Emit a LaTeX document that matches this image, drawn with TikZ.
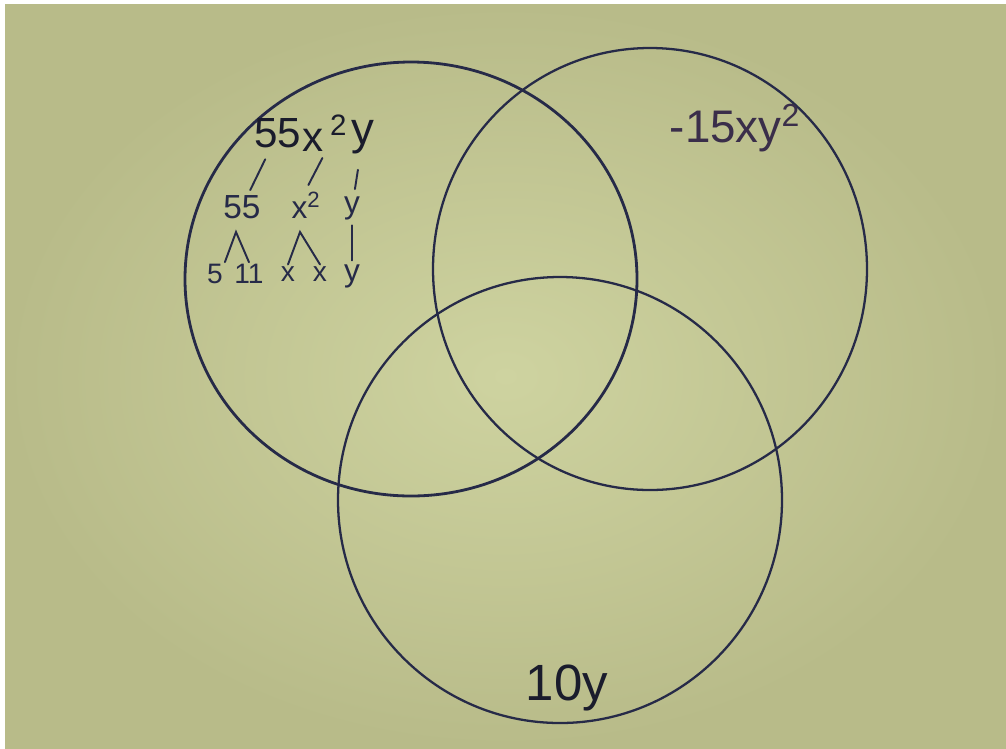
\documentclass[tikz,border=0pt]{standalone}
\usepackage{fontspec}
\setsansfont{Liberation Sans}
\usepackage{tikz}
\usepackage{xcolor}

\definecolor{paper}{RGB}{206,211,160}
\definecolor{paperedge}{RGB}{184,187,137}
\definecolor{ink}{RGB}{38,42,72}
\definecolor{inkdark}{RGB}{26,28,44}
\definecolor{inkpurple}{RGB}{58,46,74}

\begin{document}
\begin{tikzpicture}[
    x=0.02cm, y=-0.02cm,
    ring/.style={
      draw=ink,
      line width=1.3pt
    },
    term/.style={
      font=\sffamily,
      text=inkdark,
      inner sep=1pt
    },
    branch/.style={
      draw=ink,
      line width=1.1pt,
      line cap=round
    }
  ]

    % Papier
    \useasboundingbox (0,0) rectangle (1006,748);
    \fill[white] (0,0) rectangle (1006,748);
    \shade[inner color=paper, outer color=paperedge]
      (5,4) rectangle (1006,748);

    % Kreise
    \draw[ring, line width=1.6pt] (411,279) ellipse [x radius=226, y radius=217];
    \draw[ring] (650,269) ellipse [x radius=217, y radius=221];
    \draw[ring] (560,500) ellipse [x radius=222, y radius=223];

    % Terme
    \node[term, font=\sffamily\fontsize{24}{24}\selectfont] (top55) at (278,133) {55};
    \node[term, anchor=west, font=\sffamily\fontsize{24}{24}\selectfont] (topx) at (300,133)
      {x\hspace{4pt}\textsuperscript{2}};
    \node[term, font=\sffamily\fontsize{26}{26}\selectfont] (topy) at (363,137) {y};

    \node[term, text=inkpurple, font=\sffamily\fontsize{26}{26}\selectfont]
      (minus15) at (735,128) {-15xy\textsuperscript{2}};

    \node[term, font=\sffamily\fontsize{29}{29}\selectfont] (ten) at (567,688) {10y};

    % Faktorbaum
    \node[term, text=ink, font=\sffamily\fontsize{19}{19}\selectfont] (mid55) at (242,207) {55};
    \node[term, text=ink, font=\sffamily\fontsize{18}{18}\selectfont] (midx) at (306,205) {x\textsuperscript{2}};
    \node[term, text=ink, font=\sffamily\fontsize{18}{18}\selectfont] (midy) at (352,208) {y};

    \node[term, text=ink, font=\sffamily\fontsize{16}{16}\selectfont] (leaf5) at (215,274) {5};
    \node[term, text=ink, font=\sffamily\fontsize{16}{16}\selectfont] (leaf11) at (249,274) {11};
    \node[term, text=ink, font=\sffamily\fontsize{16}{16}\selectfont] (leafxa) at (288,274) {x};
    \node[term, text=ink, font=\sffamily\fontsize{16}{16}\selectfont] (leafxb) at (320,274) {x};
    \node[term, text=ink, font=\sffamily\fontsize{18}{18}\selectfont] (leafy) at (352,276) {y};

    % Aeste
    \draw[branch, shorten <=6pt, shorten >=2pt] (top55) -- (mid55);
    \draw[branch, shorten <=3pt, shorten >=3pt] (topx.south) -- (midx.north);
    \draw[branch, shorten <=8pt, shorten >=3pt] (topy) -- (midy);

    \coordinate (apex55) at (236,232);
    \coordinate (apexx) at (300,232);
    \draw[branch] (leaf5.north east) -- (apex55) -- (leaf11.north);
    \draw[branch] (leafxa.north) -- (apexx) -- (leafxb.north);
    \draw[branch, shorten <=2pt, shorten >=1pt] (midy) -- (leafy);

  \end{tikzpicture}
\end{document}
